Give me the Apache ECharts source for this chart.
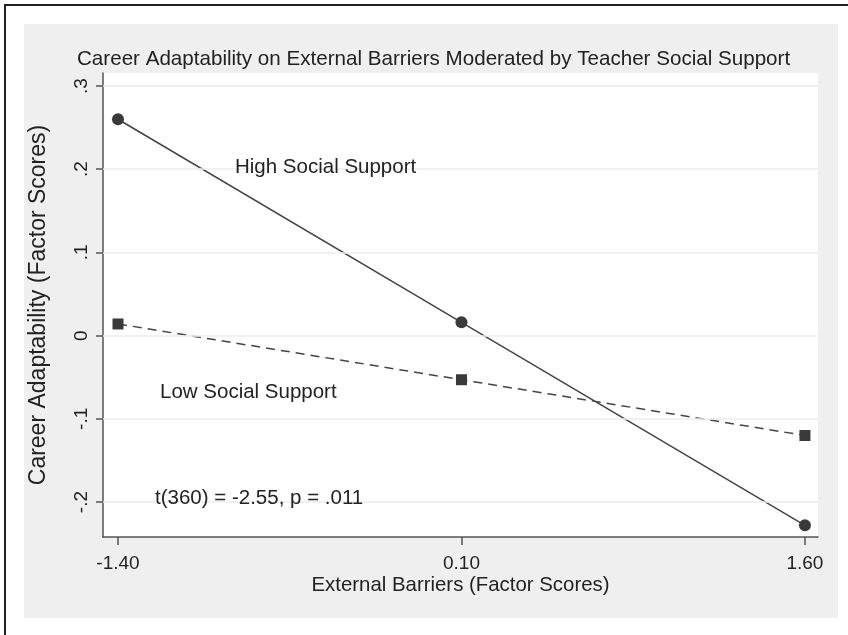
<!DOCTYPE html>
<html>
<head>
<meta charset="utf-8">
<script src="https://cdn.jsdelivr.net/npm/echarts@6/dist/echarts.min.js"></script>
<style>
html,body{margin:0;padding:0;background:#fff;}
#chart{width:848px;height:635px;}
</style>
</head>
<body>
<div id="chart"></div>
<script>
// ---- data ----
const xValues = [-1.40, 0.10, 1.60];
const xTickLabels = ['-1.40', '0.10', '1.60'];
const highSupport = [0.260, 0.016, -0.228];
const lowSupport = [0.014, -0.053, -0.120];
const yTicks = [-0.2, -0.1, 0, 0.1, 0.2, 0.3];
const yTickLabels = ['-.2', '-.1', '0', '.1', '.2', '.3'];
const titleText = 'Career Adaptability on External Barriers Moderated by Teacher Social Support';
const xName = 'External Barriers (Factor Scores)';
const yName = 'Career Adaptability (Factor Scores)';
const annHigh = 'High Social Support';
const annLow = 'Low Social Support';
const annStat = 't(360) = -2.55, p = .011';

const FONT = "'Liberation Sans', Arial, sans-serif";
const TXT = '#222';
const MARK = '#3a3a3a';

const chart = echarts.init(document.getElementById('chart'), null, {renderer: 'canvas'});

const xLabelMap = {};
xValues.forEach((v, i) => { xLabelMap[v.toFixed(2)] = xTickLabels[i]; });
const yLabelMap = {};
yTicks.forEach((v, i) => { yLabelMap[v.toFixed(1)] = yTickLabels[i]; });

const option = {
  backgroundColor: '#fff',
  animation: false,
  title: {
    text: titleText,
    left: 72,
    top: 44,
    textStyle: {fontFamily: FONT, fontSize: 20.6, fontWeight: 'normal', color: TXT}
  },
  graphic: [
    {type: 'rect', z: -100, silent: true, shape: {x: 5, y: 5, width: 870, height: 660},
     style: {fill: 'none', stroke: '#222', lineWidth: 2}},
    {type: 'rect', z: -99, silent: true, shape: {x: 24, y: 24, width: 814, height: 594},
     style: {fill: '#efefef'}},
    {type: 'text', z: 100, left: 235, top: 157, style: {text: annHigh, font: '20.5px ' + FONT, fill: TXT}},
    {type: 'text', z: 100, left: 160, top: 382, style: {text: annLow, font: '20.5px ' + FONT, fill: TXT}},
    {type: 'text', z: 100, left: 155, top: 488, style: {text: annStat, font: '20.5px ' + FONT, fill: TXT}}
  ],
  grid: {
    left: 103, top: 73, right: 30, bottom: 98,
    show: true, backgroundColor: '#fff', borderWidth: 0
  },
  xAxis: {
    type: 'value',
    min: -1.4655, max: 1.657,
    name: xName,
    nameLocation: 'middle',
    nameGap: 38,
    nameMoveOverlap: false,
    nameTextStyle: {fontFamily: FONT, fontSize: 20.4, color: TXT},
    axisLine: {onZero: false, lineStyle: {color: '#555', width: 1.5}},
    axisTick: {show: true, length: 8, customValues: xValues, lineStyle: {color: '#555', width: 1.5}},
    axisLabel: {customValues: xValues, margin: 17, fontFamily: FONT, fontSize: 19, color: TXT,
      formatter: v => xLabelMap[Number(v).toFixed(2)] || ''},
    splitLine: {show: false}
  },
  yAxis: {
    type: 'value',
    min: -0.242, max: 0.3156,
    name: yName,
    nameLocation: 'middle',
    nameGap: 53,
    nameMoveOverlap: false,
    nameRotate: 90,
    nameTextStyle: {fontFamily: FONT, fontSize: 23, color: TXT},
    axisLine: {show: true, onZero: false, lineStyle: {color: '#555', width: 1.5}},
    axisTick: {show: true, length: 7, customValues: yTicks, lineStyle: {color: '#555', width: 1.5}},
    axisLabel: {customValues: yTicks, rotate: 90, margin: 12, fontFamily: FONT, fontSize: 19, color: TXT,
      formatter: v => yLabelMap[Number(v).toFixed(1)] || ''},
    splitLine: {show: false}
  },
  series: [
    {
      name: 'Grid', type: 'line', data: [], silent: true,
      markLine: {
        silent: true, symbol: 'none', label: {show: false},
        lineStyle: {color: '#ececec', width: 1.5, type: 'solid'},
        data: yTicks.map(v => ({yAxis: v}))
      }
    },
    {
      name: annHigh, type: 'line',
      data: xValues.map((x, i) => [x, highSupport[i]]),
      symbol: 'circle', symbolSize: 12,
      lineStyle: {color: '#444', width: 1.5},
      itemStyle: {color: MARK}
    },
    {
      name: annLow, type: 'line',
      data: xValues.map((x, i) => [x, lowSupport[i]]),
      symbol: 'rect', symbolSize: 11,
      lineStyle: {color: '#444', width: 1.5, type: [9, 6]},
      itemStyle: {color: MARK}
    }
  ]
};
chart.setOption(option);
</script>
</body>
</html>
